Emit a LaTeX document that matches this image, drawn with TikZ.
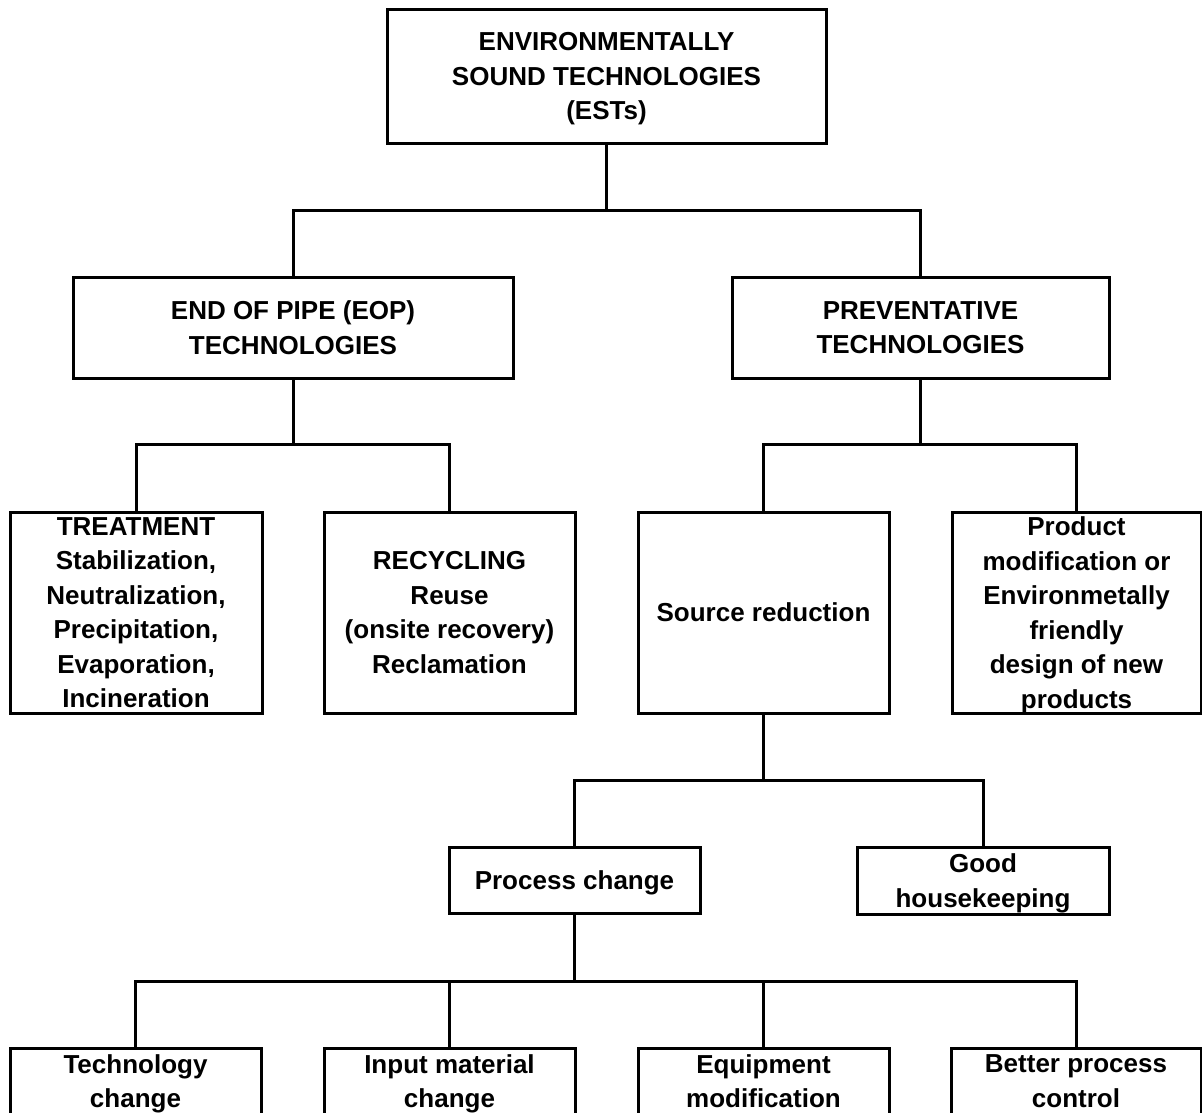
\documentclass[tikz,border=0pt]{standalone}
\usepackage{fontspec}
\setmainfont{Liberation Sans}
\begin{document}
\begin{tikzpicture}[x=1pt,y=-1pt,
  box/.style={draw=black, line width=3pt, fill=white, inner sep=0pt, outer sep=0pt,
    align=center, text depth=0pt, font=\bfseries\fontsize{26}{34.5}\selectfont},
  link/.style={draw=black, line width=3pt}
]
\useasboundingbox (0,0) rectangle (1202,1112);
\clip (0,0) rectangle (1202,1112);

% level 0
\node[box, minimum width=439pt, minimum height=134pt] (est) at (606.5,76)
  {ENVIRONMENTALLY\\SOUND TECHNOLOGIES\\(ESTs)};

% level 1
\node[box, minimum width=440pt, minimum height=101pt] (eop) at (293,327.5)
  {END OF PIPE (EOP)\\TECHNOLOGIES};
\node[box, minimum width=377pt, minimum height=101pt] (prev) at (920.5,327.5)
  {PREVENTATIVE\\TECHNOLOGIES};

% level 2
\node[box, minimum width=252pt, minimum height=201pt] (treat) at (136,612.5)
  {TREATMENT\\Stabilization,\\Neutralization,\\Precipitation,\\Evaporation,\\Incineration};
\node[box, minimum width=251pt, minimum height=201pt] (recyc) at (449.5,612.5)
  {RECYCLING\\Reuse\\(onsite recovery)\\Reclamation};
\node[box, minimum width=251pt, minimum height=201pt] (source) at (763.5,612.5)
  {Source reduction};
\node[box, minimum width=249pt, minimum height=201pt] (prod) at (1076.5,612.5)
  {Product\\modification or\\Environmetally\\friendly\\design of new\\products};

% level 3
\node[box, minimum width=251pt, minimum height=66pt] (proc) at (574.5,880)
  {Process change};
\node[box, minimum width=252pt, minimum height=67pt] (good) at (983,880.5)
  {Good\\housekeeping};

% level 4
\node[box, minimum width=251pt, minimum height=66pt] (tech) at (135.5,1081)
  {Technology\\change};
\node[box, minimum width=251pt, minimum height=66pt] (input) at (449.5,1081)
  {Input material\\change};
\node[box, minimum width=251pt, minimum height=66pt] (equip) at (763.5,1081)
  {Equipment\\modification};
\node[box, minimum width=250pt, minimum height=66pt] (better) at (1076,1081)
  {Better process\\control};

% junction points of the branch bars
\coordinate (j1) at (606.5,210);
\coordinate (j2) at (293,444);
\coordinate (j3) at (920.5,444);
\coordinate (j4) at (763.5,780);
\coordinate (j5) at (574.5,981);

% connectors
\draw[link] (est.south) -- (j1);
\draw[link] (eop.north) |- (j1) -| (prev.north);

\draw[link] (eop.south) -- (j2);
\draw[link] (treat.north) |- (j2) -| (recyc.north);

\draw[link] (prev.south) -- (j3);
\draw[link] (source.north) |- (j3) -| (prod.north);

\draw[link] (source.south) -- (j4);
\draw[link] (proc.north) |- (j4) -| (good.north);

\draw[link] (proc.south) -- (j5);
\draw[link] (tech.north) |- (j5) -| (better.north);
\draw[link] (input.north) -- (input.north |- j5);
\draw[link] (equip.north) -- (equip.north |- j5);
\end{tikzpicture}
\end{document}
